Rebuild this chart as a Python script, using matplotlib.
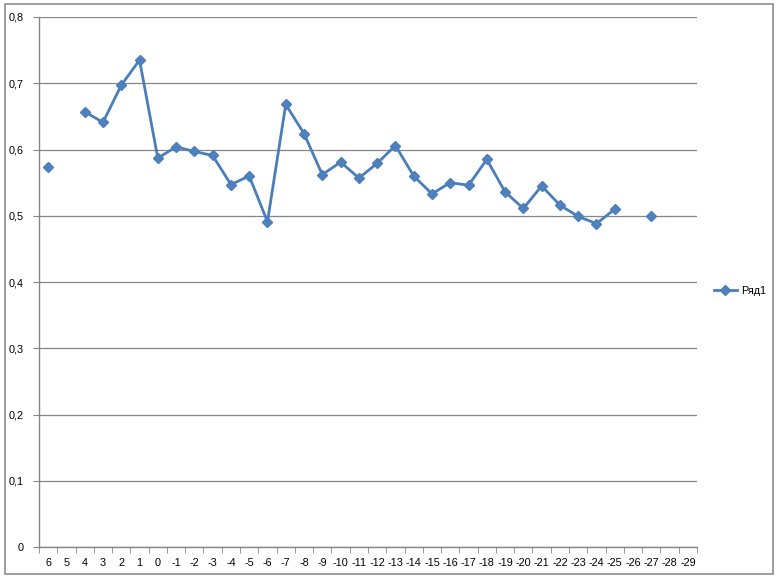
import numpy as np
import matplotlib
matplotlib.use("Agg")
import matplotlib.pyplot as plt
from matplotlib.patches import Rectangle

categories = [str(v) for v in range(6, -30, -1)]
values = [0.574, np.nan, 0.657, 0.641, 0.697, 0.735, 0.587, 0.604, 0.597, 0.591,
          0.547, 0.560, 0.491, 0.668, 0.624, 0.562, 0.581, 0.557, 0.579, 0.606,
          0.560, 0.533, 0.550, 0.546, 0.585, 0.536, 0.511, 0.545, 0.516, 0.499,
          0.488, 0.510, np.nan, 0.499, np.nan, np.nan]
series_name = "Ряд1"
yticks = [0, 0.1, 0.2, 0.3, 0.4, 0.5, 0.6, 0.7, 0.8]
ytick_labels = ["0", "0,1", "0,2", "0,3", "0,4", "0,5", "0,6", "0,7", "0,8"]

plt.rcParams['font.family'] = ['Liberation Sans', 'DejaVu Sans']

fig = plt.figure(figsize=(7.82, 5.81), dpi=100)
fig.patch.set_facecolor('white')

# chart border
fig.patches.append(Rectangle((5/782, 1 - 574/581), (773 - 5)/782, (574 - 4)/581,
                             transform=fig.transFigure, fill=False,
                             edgecolor='#8c8c8c', linewidth=1.2))

ax = fig.add_axes([39/782, 1 - 547/581, (697 - 39)/782, (547 - 17)/581])
x = np.arange(len(categories))
line_color = '#4A7EBB'
ax.plot(x, values, color=line_color, linewidth=2.0, marker='D', markersize=5.5,
        markerfacecolor='#4F81BD', markeredgecolor='#4A7EBB', label=series_name)

ax.set_xlim(-0.5, len(categories) - 0.5)
ax.set_ylim(0, 0.8)
ax.set_yticks(yticks)
ax.set_yticklabels(ytick_labels)
ax.set_xticks(x)
ax.set_xticklabels(categories)
ax.set_xticks(np.arange(-0.5, len(categories)), minor=True)
ax.tick_params(axis='x', which='major', length=0, pad=8, labelsize=7.8, colors='black')
ax.tick_params(axis='x', which='minor', length=4, color='#868686', direction='out')
ax.tick_params(axis='y', which='major', length=4, color='#868686', labelsize=7.8, pad=7)

ax.grid(axis='y', color='#868686', linewidth=0.9)
ax.set_axisbelow(True)
for s in ['top', 'right']:
    ax.spines[s].set_visible(False)
for s in ['left', 'bottom']:
    ax.spines[s].set_color('#868686')
    ax.spines[s].set_linewidth(1.0)

fig.legend(loc='center left', bbox_to_anchor=(0.900, 0.5), frameon=False,
           fontsize=7.8, handlelength=2.2, handletextpad=0.3)

fig.savefig('out.png', dpi=100, facecolor='white')
